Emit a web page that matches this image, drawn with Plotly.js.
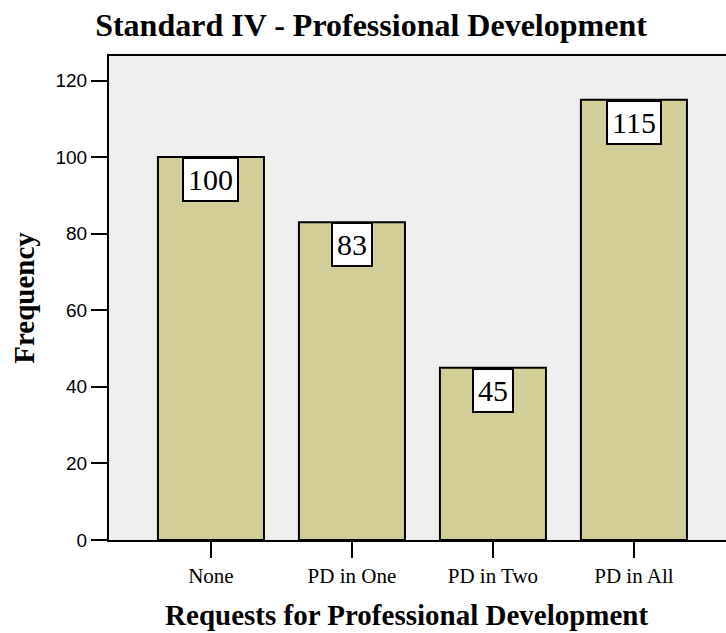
<!DOCTYPE html>
<html>
<head>
<meta charset="utf-8">
<script src="https://cdn.plot.ly/plotly-3.0.1.min.js"></script>
<style>html,body{margin:0;padding:0;background:#fff;}#chart{width:726px;height:633px;}</style>
</head>
<body>
<div id="chart"></div>
<script>
const categories = ["None", "PD in One", "PD in Two", "PD in All"];
const frequencies = [100, 83, 45, 115];
const yTickValues = [0, 20, 40, 60, 80, 100, 120];

const serif = "Liberation Serif, Times New Roman, serif";
const sans = "Liberation Sans, Arial, sans-serif";

const trace = {
  type: "bar",
  x: categories,
  y: frequencies,
  marker: { color: "#d3ce98", line: { color: "#000", width: 2 } },
  hoverinfo: "skip"
};

const annotations = categories.map((c, i) => ({
  x: c, y: frequencies[i], xref: "x", yref: "y",
  text: String(frequencies[i]),
  showarrow: false,
  yanchor: "top", xanchor: "center",
  font: { family: serif, size: 30, color: "#000" },
  bgcolor: "#fff", bordercolor: "#000", borderwidth: 2, borderpad: 4,
  height: 33
}));

const layout = {
  width: 726, height: 633,
  margin: { l: 109, r: 0, t: 56, b: 93 },
  paper_bgcolor: "#fff",
  plot_bgcolor: "#efefef",
  showlegend: false,
  bargap: 0.248,
  title: {
    text: "<b>Standard IV - Professional Development</b>",
    font: { family: serif, size: 32, color: "#000" },
    x: 371 / 726, xref: "container", xanchor: "center",
    y: 1 - 25 / 633, yref: "container", yanchor: "middle"
  },
  xaxis: {
    type: "category",
    range: [-0.723, 3.653],
    showline: true, linecolor: "#000", linewidth: 2, mirror: true,
    ticks: "outside", ticklen: 16, tickwidth: 2, tickcolor: "#000",
    tickfont: { family: serif, size: 21, color: "#000" },
    showgrid: false, zeroline: false,
    title: {
      text: "<b>Requests for Professional Development</b>&nbsp;&nbsp;&nbsp;",
      font: { family: serif, size: 29, color: "#000" },
      standoff: 17
    }
  },
  yaxis: {
    range: [0, 126.4],
    tickvals: yTickValues,
    showline: true, linecolor: "#000", linewidth: 2,
    ticks: "outside", ticklen: 16, tickwidth: 2, tickcolor: "#000",
    tickfont: { family: sans, size: 19, color: "#000" },
    showgrid: false, zeroline: false,
    title: {
      text: "<b>Frequency</b>",
      font: { family: serif, size: 29, color: "#000" },
      standoff: 12
    }
  },
  annotations: annotations
};

Plotly.newPlot("chart", [trace], layout, { displayModeBar: false, staticPlot: true });
</script>
</body>
</html>
